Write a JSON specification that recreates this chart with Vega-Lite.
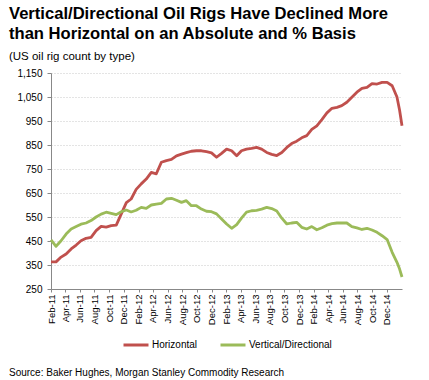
{
  "$schema": "https://vega.github.io/schema/vega-lite/v6.json",
  "padding": {"left": 8, "top": 5, "right": 5, "bottom": 2},
  "background": "white",
  "title": {
    "text": "Source: Baker Hughes, Morgan Stanley Commodity Research",
    "orient": "bottom",
    "anchor": "start",
    "font": "Liberation Sans",
    "fontSize": 10,
    "fontWeight": "normal",
    "color": "#000",
    "offset": 17
  },
  "datasets": {
    "rigs": [
      {"date": "2011-02-01", "Horizontal": 363, "Vertical/Directional": 455},
      {"date": "2011-02-22", "Horizontal": 363, "Vertical/Directional": 428},
      {"date": "2011-03-15", "Horizontal": 383, "Vertical/Directional": 451},
      {"date": "2011-04-05", "Horizontal": 396, "Vertical/Directional": 479},
      {"date": "2011-04-26", "Horizontal": 417, "Vertical/Directional": 500},
      {"date": "2011-05-17", "Horizontal": 433, "Vertical/Directional": 510},
      {"date": "2011-06-06", "Horizontal": 451, "Vertical/Directional": 520},
      {"date": "2011-06-27", "Horizontal": 461, "Vertical/Directional": 525},
      {"date": "2011-07-18", "Horizontal": 465, "Vertical/Directional": 535},
      {"date": "2011-08-08", "Horizontal": 493, "Vertical/Directional": 550},
      {"date": "2011-08-29", "Horizontal": 511, "Vertical/Directional": 562},
      {"date": "2011-09-19", "Horizontal": 508, "Vertical/Directional": 570},
      {"date": "2011-10-10", "Horizontal": 514, "Vertical/Directional": 565},
      {"date": "2011-10-31", "Horizontal": 516, "Vertical/Directional": 560},
      {"date": "2011-11-21", "Horizontal": 563, "Vertical/Directional": 572},
      {"date": "2011-12-12", "Horizontal": 610, "Vertical/Directional": 579},
      {"date": "2012-01-01", "Horizontal": 625, "Vertical/Directional": 571},
      {"date": "2012-01-22", "Horizontal": 665, "Vertical/Directional": 578},
      {"date": "2012-02-12", "Horizontal": 688, "Vertical/Directional": 590},
      {"date": "2012-03-04", "Horizontal": 708, "Vertical/Directional": 586},
      {"date": "2012-03-25", "Horizontal": 736, "Vertical/Directional": 600},
      {"date": "2012-04-15", "Horizontal": 730, "Vertical/Directional": 604},
      {"date": "2012-05-06", "Horizontal": 778, "Vertical/Directional": 607},
      {"date": "2012-05-27", "Horizontal": 785, "Vertical/Directional": 625},
      {"date": "2012-06-17", "Horizontal": 790, "Vertical/Directional": 628},
      {"date": "2012-07-08", "Horizontal": 805, "Vertical/Directional": 620},
      {"date": "2012-07-29", "Horizontal": 812, "Vertical/Directional": 611},
      {"date": "2012-08-18", "Horizontal": 818, "Vertical/Directional": 618},
      {"date": "2012-09-08", "Horizontal": 824, "Vertical/Directional": 597},
      {"date": "2012-09-29", "Horizontal": 826, "Vertical/Directional": 597},
      {"date": "2012-10-20", "Horizontal": 826, "Vertical/Directional": 583},
      {"date": "2012-11-10", "Horizontal": 822, "Vertical/Directional": 574},
      {"date": "2012-12-01", "Horizontal": 817, "Vertical/Directional": 572},
      {"date": "2012-12-22", "Horizontal": 799, "Vertical/Directional": 563},
      {"date": "2013-01-12", "Horizontal": 815, "Vertical/Directional": 542},
      {"date": "2013-02-02", "Horizontal": 833, "Vertical/Directional": 521},
      {"date": "2013-02-23", "Horizontal": 826, "Vertical/Directional": 503},
      {"date": "2013-03-16", "Horizontal": 805, "Vertical/Directional": 518},
      {"date": "2013-04-05", "Horizontal": 826, "Vertical/Directional": 545},
      {"date": "2013-04-26", "Horizontal": 833, "Vertical/Directional": 570},
      {"date": "2013-05-17", "Horizontal": 836, "Vertical/Directional": 576},
      {"date": "2013-06-07", "Horizontal": 840, "Vertical/Directional": 578},
      {"date": "2013-06-28", "Horizontal": 833, "Vertical/Directional": 583},
      {"date": "2013-07-19", "Horizontal": 819, "Vertical/Directional": 590},
      {"date": "2013-08-09", "Horizontal": 811, "Vertical/Directional": 585},
      {"date": "2013-08-30", "Horizontal": 806, "Vertical/Directional": 575},
      {"date": "2013-09-20", "Horizontal": 819, "Vertical/Directional": 545},
      {"date": "2013-10-11", "Horizontal": 840, "Vertical/Directional": 521},
      {"date": "2013-10-31", "Horizontal": 856, "Vertical/Directional": 525},
      {"date": "2013-11-21", "Horizontal": 866, "Vertical/Directional": 528},
      {"date": "2013-12-12", "Horizontal": 880, "Vertical/Directional": 507},
      {"date": "2014-01-02", "Horizontal": 889, "Vertical/Directional": 500},
      {"date": "2014-01-23", "Horizontal": 915, "Vertical/Directional": 510},
      {"date": "2014-02-13", "Horizontal": 930, "Vertical/Directional": 497},
      {"date": "2014-03-06", "Horizontal": 956, "Vertical/Directional": 505},
      {"date": "2014-03-27", "Horizontal": 984, "Vertical/Directional": 516},
      {"date": "2014-04-17", "Horizontal": 1003, "Vertical/Directional": 522},
      {"date": "2014-05-08", "Horizontal": 1007, "Vertical/Directional": 525},
      {"date": "2014-05-28", "Horizontal": 1014, "Vertical/Directional": 525},
      {"date": "2014-06-18", "Horizontal": 1028, "Vertical/Directional": 525},
      {"date": "2014-07-09", "Horizontal": 1049, "Vertical/Directional": 510},
      {"date": "2014-07-30", "Horizontal": 1070, "Vertical/Directional": 505},
      {"date": "2014-08-20", "Horizontal": 1086, "Vertical/Directional": 498},
      {"date": "2014-09-10", "Horizontal": 1090, "Vertical/Directional": 503},
      {"date": "2014-10-01", "Horizontal": 1106, "Vertical/Directional": 496},
      {"date": "2014-10-22", "Horizontal": 1104, "Vertical/Directional": 486},
      {"date": "2014-11-12", "Horizontal": 1111, "Vertical/Directional": 472},
      {"date": "2014-12-03", "Horizontal": 1111, "Vertical/Directional": 456},
      {"date": "2014-12-24", "Horizontal": 1097, "Vertical/Directional": 403},
      {"date": "2015-01-13", "Horizontal": 1050, "Vertical/Directional": 361},
      {"date": "2015-01-24", "Horizontal": 995, "Vertical/Directional": 333},
      {"date": "2015-02-03", "Horizontal": 930, "Vertical/Directional": 300}
    ]
  },
  "vconcat": [
    {
      "width": 351,
      "height": 216,
      "title": {
        "text": ["Vertical/Directional Oil Rigs Have Declined More", "than Horizontal on an Absolute and % Basis"],
        "subtitle": "(US oil rig count by type)",
        "anchor": "start",
        "font": "Liberation Sans",
        "fontSize": 16.6,
        "fontWeight": "bold",
        "lineHeight": 20,
        "color": "#000",
        "subtitleFont": "Liberation Sans",
        "subtitleFontSize": 11.5,
        "subtitleColor": "#000",
        "subtitlePadding": 8,
        "offset": 6,
        "dx": -8
      },
      "data": {"name": "rigs"},
      "transform": [
        {"fold": ["Horizontal", "Vertical/Directional"], "as": ["type", "count"]}
      ],
      "mark": {"type": "line", "strokeWidth": 2.8, "strokeJoin": "round"},
      "encoding": {
        "x": {
          "field": "date",
          "type": "temporal",
          "scale": {
            "type": "utc",
            "domain": [
              {"year": 2011, "month": 2, "date": 1, "utc": true},
              {"year": 2015, "month": 2, "date": 3, "utc": true}
            ]
          },
          "axis": {
            "title": null,
            "grid": false,
            "format": "%b-%y",
            "values": [
              {"year": 2011, "month": 2, "date": 1, "utc": true},
              {"year": 2011, "month": 4, "date": 1, "utc": true},
              {"year": 2011, "month": 6, "date": 1, "utc": true},
              {"year": 2011, "month": 8, "date": 1, "utc": true},
              {"year": 2011, "month": 10, "date": 1, "utc": true},
              {"year": 2011, "month": 12, "date": 1, "utc": true},
              {"year": 2012, "month": 2, "date": 1, "utc": true},
              {"year": 2012, "month": 4, "date": 1, "utc": true},
              {"year": 2012, "month": 6, "date": 1, "utc": true},
              {"year": 2012, "month": 8, "date": 1, "utc": true},
              {"year": 2012, "month": 10, "date": 1, "utc": true},
              {"year": 2012, "month": 12, "date": 1, "utc": true},
              {"year": 2013, "month": 2, "date": 1, "utc": true},
              {"year": 2013, "month": 4, "date": 1, "utc": true},
              {"year": 2013, "month": 6, "date": 1, "utc": true},
              {"year": 2013, "month": 8, "date": 1, "utc": true},
              {"year": 2013, "month": 10, "date": 1, "utc": true},
              {"year": 2013, "month": 12, "date": 1, "utc": true},
              {"year": 2014, "month": 2, "date": 1, "utc": true},
              {"year": 2014, "month": 4, "date": 1, "utc": true},
              {"year": 2014, "month": 6, "date": 1, "utc": true},
              {"year": 2014, "month": 8, "date": 1, "utc": true},
              {"year": 2014, "month": 10, "date": 1, "utc": true},
              {"year": 2014, "month": 12, "date": 1, "utc": true}
            ],
            "labelAngle": 270,
            "labelAlign": "right",
            "labelBaseline": "middle",
            "labelFont": "Liberation Sans",
            "labelFontSize": 9.5,
            "labelColor": "#000",
            "labelPadding": 2,
            "labelOverlap": false,
            "labelFlush": false,
            "tickSize": 3,
            "tickColor": "#888",
            "domainColor": "#888"
          }
        },
        "y": {
          "field": "count",
          "type": "quantitative",
          "scale": {"domain": [250, 1150], "nice": false, "zero": false},
          "axis": {
            "title": null,
            "values": [250, 350, 450, 550, 650, 750, 850, 950, 1050, 1150],
            "format": ",.0f",
            "grid": true,
            "gridDash": [1, 2],
            "gridColor": "#c8c8c8",
            "labelFont": "Liberation Sans",
            "labelFontSize": 10,
            "labelColor": "#000",
            "labelPadding": 5,
            "tickSize": 4,
            "tickColor": "#888",
            "domainColor": "#888"
          }
        },
        "color": {
          "field": "type",
          "type": "nominal",
          "scale": {
            "domain": ["Horizontal", "Vertical/Directional"],
            "range": ["#C0504D", "#9BBB59"]
          },
          "legend": {
            "title": null,
            "orient": "bottom",
            "direction": "horizontal",
            "symbolType": "stroke",
            "symbolSize": 625,
            "symbolStrokeWidth": 3,
            "labelFont": "Liberation Sans",
            "labelFontSize": 10,
            "labelColor": "#000",
            "labelOffset": 2,
            "columnPadding": 16,
            "offset": 6
          }
        }
      }
    }
  ],
  "config": {
    "view": {"stroke": null},
    "font": "Liberation Sans",
    "legend": {"layout": {"bottom": {"anchor": "middle"}}}
  }
}
